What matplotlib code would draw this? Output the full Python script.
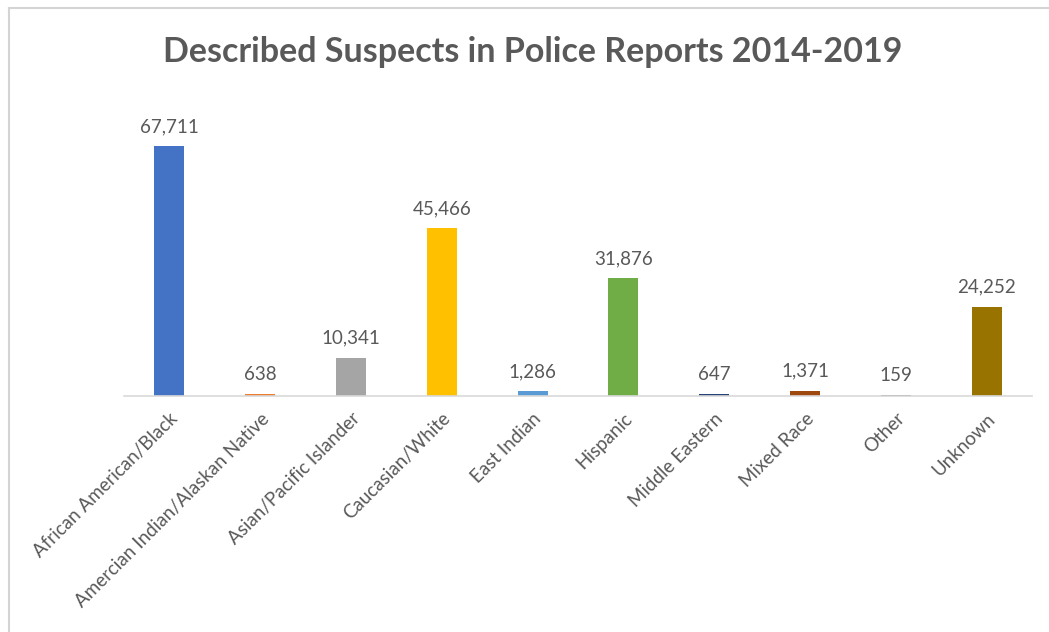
import matplotlib.pyplot as plt
from matplotlib.lines import Line2D

categories = ['African American/Black', 'Amercian Indian/Alaskan Native',
              'Asian/Pacific Islander', 'Caucasian/White', 'East Indian',
              'Hispanic', 'Middle Eastern', 'Mixed Race', 'Other', 'Unknown']
counts = [67711, 638, 10341, 45466, 1286, 31876, 647, 1371, 159, 24252]
colors = ['#4472C4', '#ED7D31', '#A5A5A5', '#FFC000', '#5B9BD5',
          '#70AD47', '#264478', '#9E480E', '#636363', '#997300']

plt.rcParams['font.family'] = ['Lato', 'DejaVu Sans']
text_color = '#595959'

fig = plt.figure(figsize=(10.49, 6.32), dpi=100)
ax = fig.add_axes([0.1182, 0.3734, 0.8656, 0.4668])

x = range(len(categories))
bars = ax.bar(x, counts, width=0.33, color=colors)
for b, v in zip(bars, counts):
    ax.annotate(f'{v:,}', (b.get_x() + b.get_width() / 2, v),
                xytext=(0, 8), textcoords='offset points',
                ha='center', va='bottom', fontsize=13.5, color=text_color)

ax.set_xlim(-0.5, len(categories) - 0.5)
ax.set_ylim(0, 80000)
ax.set_xticks(list(x))
ax.set_xticklabels(categories, rotation=45, ha='right', rotation_mode='anchor',
                   fontsize=13.5, color=text_color)
ax.tick_params(axis='x', length=0, pad=10)
ax.set_yticks([])
for s in ['top', 'right', 'left']:
    ax.spines[s].set_visible(False)
ax.spines['bottom'].set_color('#d9d9d9')
ax.spines['bottom'].set_linewidth(1.2)

fig.text(0.508, 0.918, 'Described Suspects in Police Reports 2014-2019',
         ha='center', va='center', fontsize=24.5, fontweight='bold', color=text_color)

# thin frame along the top and left edges
fig.add_artist(Line2D([9 / 1049, 1], [1 - 8 / 632, 1 - 8 / 632],
                      color='#d4d4d4', lw=1.5))
fig.add_artist(Line2D([9 / 1049, 9 / 1049], [0, 1 - 8 / 632],
                      color='#d4d4d4', lw=1.5))

fig.savefig('out.png', dpi=100)
